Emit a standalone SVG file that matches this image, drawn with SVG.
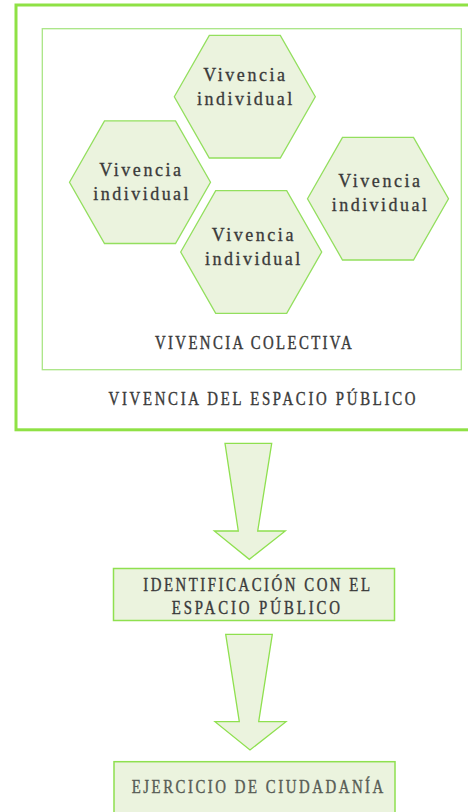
<svg xmlns="http://www.w3.org/2000/svg" xmlns:xlink="http://www.w3.org/1999/xlink" width="468" height="812" viewBox="0 0 468 812">
<style>
.outer{fill:#fff;stroke:#8fe145;stroke-width:3}
.inner{fill:#fff;stroke:#a9e585;stroke-width:1.3}
.hex{fill:#ebf3de;stroke:#93df5e;stroke-width:1.3}
.box{fill:#ebf3de;stroke:#8fe04f;stroke-width:1.5}
.arrow{fill:#ebf3de;stroke:#8fe04f;stroke-width:1.3;stroke-linejoin:miter}
.lt{font-family:"Liberation Serif","Times New Roman",serif;font-size:18px;fill:#3a3a3a;stroke:#3a3a3a;stroke-width:0.3}
.cap{font-family:"Liberation Serif","Times New Roman",serif;font-size:19px;fill:#3a3a3a;stroke:#3a3a3a;stroke-width:0.4}
.cap2{fill:#575c55;stroke:#575c55}
</style>
<defs>
<polygon id="hexshape" points="-70.5,0 -35.5,-61.3 35.5,-61.3 70.5,0 35.5,61.3 -35.5,61.3"/>
</defs>

<g id="espacio-publico">
<rect class="outer" x="16" y="5" width="470" height="424.8"/>
<text class="cap" transform="scale(0.78,1)" x="139.1" y="405.5" textLength="393.6" lengthAdjust="spacing">VIVENCIA DEL ESPACIO PÚBLICO</text>
</g>

<g id="vivencia-colectiva">
<rect class="inner" x="42.3" y="28.7" width="419" height="341"/>
<text class="cap" transform="scale(0.78,1)" x="198.7" y="349" textLength="252.2" lengthAdjust="spacing">VIVENCIA COLECTIVA</text>
</g>

<g id="hex1">
<use xlink:href="#hexshape" class="hex" x="244.8" y="96.7"/>
<text class="lt" x="203.3" y="80.8" textLength="81.7" lengthAdjust="spacing">Vivencia</text>
<text class="lt" x="197" y="104.5" textLength="95.3" lengthAdjust="spacing">individual</text>
</g>

<g id="hex2">
<use xlink:href="#hexshape" class="hex" x="140" y="182.2"/>
<text class="lt" x="99.3" y="175.5" textLength="81.7" lengthAdjust="spacing">Vivencia</text>
<text class="lt" x="93.3" y="199.5" textLength="95.3" lengthAdjust="spacing">individual</text>
</g>

<g id="hex3">
<use xlink:href="#hexshape" class="hex" x="251.2" y="252"/>
<text class="lt" x="211.7" y="240.8" textLength="81.7" lengthAdjust="spacing">Vivencia</text>
<text class="lt" x="205" y="265" textLength="95.3" lengthAdjust="spacing">individual</text>
</g>

<g id="hex4">
<use xlink:href="#hexshape" class="hex" x="378" y="198.7"/>
<text class="lt" x="338.3" y="187" textLength="81.7" lengthAdjust="spacing">Vivencia</text>
<text class="lt" x="331.7" y="210.8" textLength="95.3" lengthAdjust="spacing">individual</text>
</g>

<g id="identificacion">
<rect class="box" x="113.5" y="568.5" width="281" height="52"/>
<text class="cap" transform="scale(0.78,1)" x="183.7" y="591" textLength="290.6" lengthAdjust="spacing">IDENTIFICACIÓN CON EL</text>
<text class="cap" transform="scale(0.78,1)" x="220.1" y="614.3" textLength="215.8" lengthAdjust="spacing">ESPACIO PÚBLICO</text>
</g>

<g id="ejercicio">
<rect class="box" x="114" y="761.7" width="281" height="70"/>
<text class="cap cap2" transform="scale(0.78,1)" x="168.8" y="793.3" textLength="322.6" lengthAdjust="spacing">EJERCICIO DE CIUDADANÍA</text>
</g>

<g id="connectors">
<polygon class="arrow" points="225,443.3 271.7,443.3 257.7,531 285.3,531 249.3,559.3 214.3,531 238.3,531"/>
<polygon class="arrow" points="225.7,634.3 272.3,634.3 258.7,721.7 286,721.7 250,750 215,721.7 239.3,721.7"/>
</g>
</svg>
